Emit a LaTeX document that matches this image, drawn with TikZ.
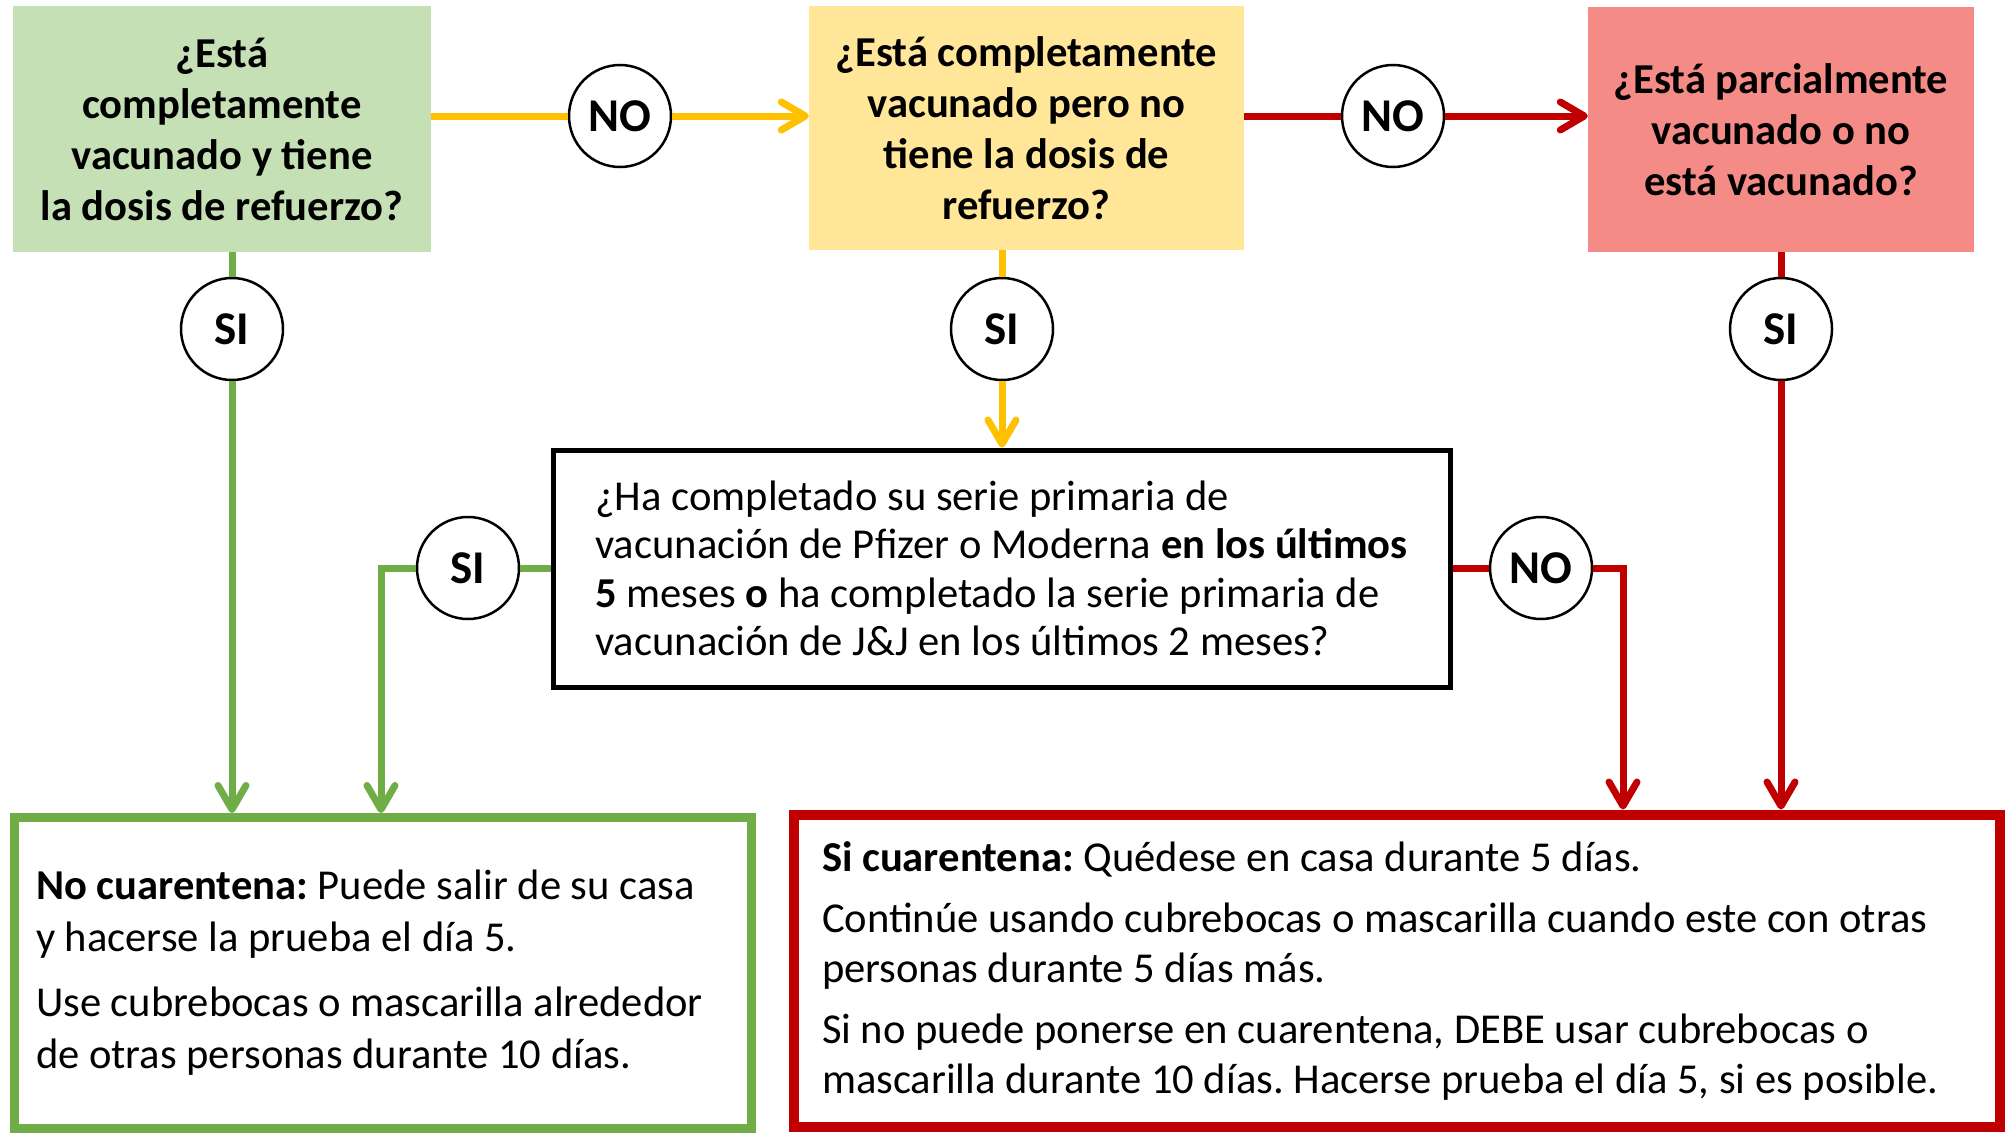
\documentclass[tikz,border=0pt]{standalone}
\usepackage{fontspec}
\setmainfont{Carlito}
\usepackage{tikz}
\usetikzlibrary{arrows.meta}
\definecolor{verdeclaro}{RGB}{197,224,180}
\definecolor{verde}{RGB}{112,173,71}
\definecolor{amarilloclaro}{RGB}{255,230,153}
\definecolor{amarillo}{RGB}{255,192,0}
\definecolor{rosa}{RGB}{245,139,134}
\definecolor{rojo}{RGB}{192,0,0}
\frenchspacing

\begin{document}
\begin{tikzpicture}[x=1pt,y=-1pt,
  pregunta/.style={inner sep=0pt,align=center,font=\bfseries\fontsize{42.6}{51}\selectfont},
  circulo/.style={circle,draw,line width=2.5pt,fill=white,minimum size=102pt,inner sep=0pt,font=\bfseries\fontsize{47}{47}\selectfont},
  enlace/.style={line width=7pt},
  flecha/.style={line width=7pt,-{Straight Barb[length=24pt,width=28pt,round]}}]
\useasboundingbox (0,0) rectangle (2009,1132);

% preguntas de arriba
\node[pregunta,fill=verdeclaro,minimum width=418pt,minimum height=246pt] (q1) at (222,129) {¿Está\\completamente\\vacunado y tiene\\la dosis de refuerzo?};
\node[pregunta,fill=amarilloclaro,minimum width=435pt,minimum height=244pt] (q2) at (1026.5,128) {¿Está completamente\\vacunado pero no\\tiene la dosis de\\refuerzo?};
\node[pregunta,fill=rosa,minimum width=386pt,minimum height=245pt] (q3) at (1781,129.5) {¿Está parcialmente\\vacunado o no\\está vacunado?};

% pregunta del centro
\node[draw,line width=5pt,minimum width=897pt,minimum height=237pt,inner sep=0pt,align=left,font=\fontsize{42.6}{48.5}\selectfont] (q4) at (1001.5,568.5)
  {¿Ha completado su serie primaria de\\vacunación de Pfizer o Moderna \textbf{en los últimos}\\\textbf{5} meses \textbf{o} ha completado la serie primaria de\\vacunación de J\&J en los últimos 2 meses?};

% respuestas
\node[draw=verde,line width=9pt,text width=693.5pt,inner xsep=21.5pt,inner ysep=0pt,minimum height=310.5pt,align=flush left,font=\fontsize{42.6}{52}\selectfont] (r1) at (382.75,972.75)
  {\textbf{No cuarentena:} Puede salir de su casa\\y hacerse la prueba el día 5.\\[13pt]Use cubrebocas o mascarilla alrededor\\de otras personas durante 10 días.};
\node[draw=rojo,line width=10pt,text width=1150pt,inner xsep=28pt,inner ysep=0pt,minimum height=312.5pt,align=flush left,font=\fontsize{42.6}{50}\selectfont] (r2) at (1397,970.75)
  {\textbf{Si cuarentena:} Quédese en casa durante 5 días.\\[11pt]Continúe usando cubrebocas o mascarilla cuando este con otras\\personas durante 5 días más.\\[11pt]Si no puede ponerse en cuarentena, DEBE usar cubrebocas o\\mascarilla durante 10 días. Hacerse prueba el día 5, si es posible.};

% SI / NO
\node[circulo] (n1) at (620,116) {NO};
\node[circulo] (n2) at (1393,116) {NO};
\node[circulo] (s1) at (232,329) {SI};
\node[circulo] (s2) at (1002,329) {SI};
\node[circulo] (s3) at (1781,329) {SI};
\node[circulo] (s4) at (468,568) {SI};
\node[circulo] (n3) at (1541,568) {NO};
\coordinate (bajaverde) at (381,0);
\coordinate (bajarojo) at (1623,0);

% flechas
\draw[enlace,amarillo] (q1.east |- n1) -- (n1);
\draw[flecha,amarillo] (n1) -- (n1 -| q2.west);
\draw[enlace,rojo] (q2.east |- n2) -- (n2);
\draw[flecha,rojo] (n2) -- (n2 -| q3.west);
\draw[enlace,verde] (q1.south -| s1) -- (s1);
\draw[flecha,verde] (s1) -- (s1 |- r1.north);
\draw[enlace,amarillo] (q2.south -| s2) -- (s2);
\draw[flecha,amarillo] (s2) -- (s2 |- q4.north);
\draw[enlace,rojo] (q3.south -| s3) -- (s3);
\draw[flecha,rojo] (s3) -- (s3 |- r2.north);
\draw[enlace,verde] (q4.west |- s4) -- (s4);
\draw[flecha,verde] (s4) -| (bajaverde |- r1.north);
\draw[enlace,rojo] (q4.east |- n3) -- (n3);
\draw[flecha,rojo] (n3) -| (bajarojo |- r2.north);

\end{tikzpicture}
\end{document}
